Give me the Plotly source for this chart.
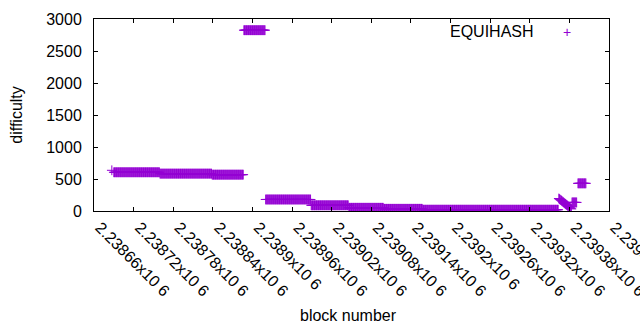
import plotly.graph_objects as go

# ---- data ----
# constant-difficulty runs: first block, last block, difficulty
seg_start = [2238687, 2238690, 2238760, 2238839, 2238887, 2238920, 2238989, 2239046, 2239099, 2239158, 2239384, 2239393]
seg_end   = [2238687, 2238759, 2238838, 2238886, 2238919, 2238988, 2239045, 2239098, 2239157, 2239363, 2239391, 2239405]
seg_diff  = [636,     605,     584,     568,     2825,    180,     89,      50,      34,      20,      134,     432]

# falling run near the end
fall_blocks = [2239364, 2239365, 2239366, 2239367, 2239368, 2239369, 2239370, 2239371, 2239372, 2239373,
               2239374, 2239375, 2239376, 2239377, 2239378, 2239379, 2239380, 2239381, 2239382, 2239383]
fall_diff   = [195, 186, 178, 170, 162, 153, 145, 136, 128, 119,
               110, 102, 94, 85, 76, 68, 59, 50, 41, 32]

tick_vals = [2238660 + 60 * k for k in range(14)]
tick_text = ["2.23866x10 6", "2.23872x10 6", "2.23878x10 6", "2.23884x10 6", "2.2389x10 6",
             "2.23896x10 6", "2.23902x10 6", "2.23908x10 6", "2.23914x10 6", "2.2392x10 6",
             "2.23926x10 6", "2.23932x10 6", "2.23938x10 6", "2.23944x10 6"]

series_name = "EQUIHASH"
color = "#9400D3"
font = "Liberation Sans, Arial, sans-serif"

blocks, diffs = [], []
for s, e, d in zip(seg_start, seg_end, seg_diff):
    for b in range(s, e + 1):
        blocks.append(b)
        diffs.append(d)
blocks += fall_blocks
diffs += fall_diff

fig = go.Figure()
fig.add_trace(go.Scatter(
    x=blocks, y=diffs, mode="markers", name=series_name, showlegend=False,
    marker=dict(symbol="cross-thin", size=7, line=dict(color=color, width=1), color=color),
))

axis_common = dict(
    showline=True, linecolor="black", linewidth=1, mirror="allticks",
    ticks="inside", ticklen=4, tickcolor="black", showgrid=False, zeroline=False,
    automargin=False,
    tickfont=dict(family=font, size=16, color="black"),
)
fig.update_xaxes(range=[2238660, 2239440], tickvals=tick_vals, ticktext=tick_text,
                 tickangle=45, ticklabelshift=6, ticklabeloverflow="allow", **axis_common)
fig.update_yaxes(range=[0, 3000], tickvals=[0, 500, 1000, 1500, 2000, 2500, 3000],
                 ticklabelstandoff=8, **axis_common)

fig.update_layout(
    width=640, height=330,
    margin=dict(l=94, r=31, t=19, b=119, autoexpand=False),
    paper_bgcolor="white", plot_bgcolor="white",
    font=dict(family=font, size=16, color="black"),
    annotations=[
        dict(text="difficulty", xref="paper", yref="paper", x=-0.152, y=0.5,
             textangle=-90, showarrow=False, xanchor="center", yanchor="middle",
             font=dict(family=font, size=16, color="black")),
        dict(text="block number", xref="paper", yref="paper", x=0.495, y=-0.542,
             showarrow=False, xanchor="center", yanchor="middle",
             font=dict(family=font, size=16, color="black")),
        dict(text=series_name, xref="paper", yref="paper", x=0.859, y=0.934,
             showarrow=False, xanchor="right", yanchor="middle",
             font=dict(family=font, size=16, color="black")),
        dict(text="+", xref="paper", yref="paper", x=0.918, y=0.934,
             showarrow=False, xanchor="center", yanchor="middle",
             font=dict(family=font, size=14, color=color)),
    ],
)

fig.write_html("out.html")
